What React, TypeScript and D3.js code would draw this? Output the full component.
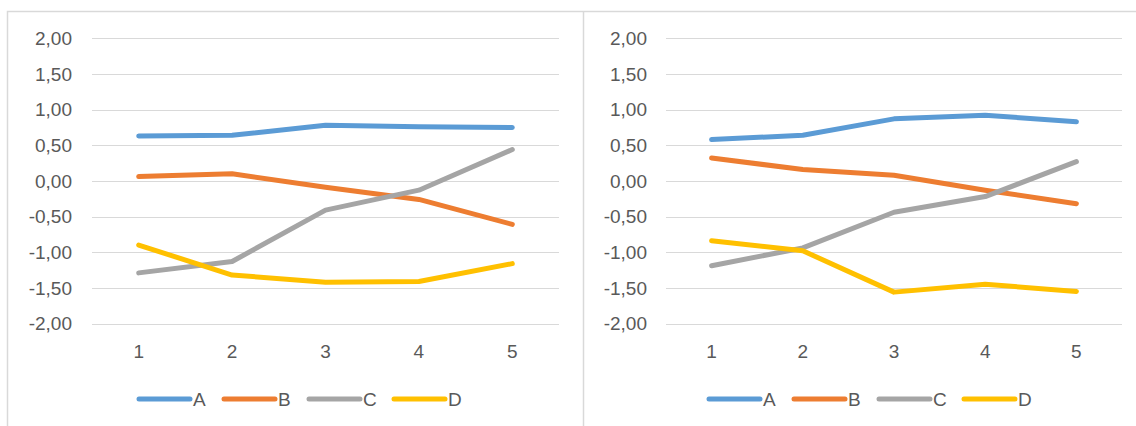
import React from 'react';
import * as d3 from 'd3';

const categories = ['1', '2', '3', '4', '5'];
const seriesNames = ['A', 'B', 'C', 'D'];
const colors = ['#5B9BD5', '#ED7D31', '#A5A5A5', '#FFC000'];
const yTicks = [2, 1.5, 1, 0.5, 0, -0.5, -1, -1.5, -2];

const leftA = [0.63, 0.64, 0.78, 0.76, 0.75];
const leftB = [0.06, 0.1, -0.09, -0.26, -0.61];
const leftC = [-1.29, -1.13, -0.41, -0.13, 0.44];
const leftD = [-0.9, -1.32, -1.42, -1.41, -1.16];

const rightA = [0.58, 0.64, 0.87, 0.92, 0.83];
const rightB = [0.32, 0.16, 0.08, -0.13, -0.32];
const rightC = [-1.19, -0.94, -0.44, -0.22, 0.27];
const rightD = [-0.84, -0.98, -1.56, -1.45, -1.55];

const W = 1136;
const H = 426;
const FONT = '"Liberation Sans", Arial, sans-serif';
const TEXT = '#595959';
const GRID = '#D9D9D9';

const fmt = (v: number) => v.toFixed(2).replace('.', ',');

type PanelProps = { x0: number; x1: number; labelRight: number; legendX: number; data: number[][] };

function Panel({ x0, x1, labelRight, legendX, data }: PanelProps) {
  const y = d3.scaleLinear().domain([-2, 2]).range([323.5, 38.3]);
  const x = d3.scaleBand<string>().domain(categories).range([x0, x1]);
  const cx = (c: string) => (x(c) as number) + x.bandwidth() / 2;
  const line = d3
    .line<number>()
    .x((_, i) => cx(categories[i]))
    .y((v) => y(v));
  return (
    <g>
      {yTicks.map((t) => (
        <g key={t}>
          <line x1={x0} x2={x1} y1={Math.round(y(t)) + 0.5} y2={Math.round(y(t)) + 0.5} stroke={GRID} strokeWidth={1} />
          <text x={labelRight} y={y(t)} dy="0.35em" textAnchor="end" fontSize={19} fill={TEXT} fontFamily={FONT}>
            {fmt(t)}
          </text>
        </g>
      ))}
      {categories.map((c) => (
        <text key={c} x={cx(c)} y={351} dy="0.35em" textAnchor="middle" fontSize={19} fill={TEXT} fontFamily={FONT}>
          {c}
        </text>
      ))}
      {data.map((s, i) => (
        <path key={i} d={line(s) || ''} fill="none" stroke={colors[i]} strokeWidth={5} strokeLinejoin="round" strokeLinecap="round" />
      ))}
      {seriesNames.map((n, i) => {
        const lx = legendX + i * 85;
        return (
          <g key={n}>
            <line x1={lx + 2} x2={lx + 53} y1={399} y2={399} stroke={colors[i]} strokeWidth={5} strokeLinecap="round" />
            <text x={lx + 56} y={399} dy="0.35em" fontSize={19} fill={TEXT} fontFamily={FONT}>
              {n}
            </text>
          </g>
        );
      })}
    </g>
  );
}

export default function App() {
  return (
    <div style={{ position: 'fixed', left: 0, top: 0, width: W, height: H, background: '#fff' }}>
      <svg width={W} height={H} style={{ display: 'block' }}>
        <rect x={0} y={0} width={W} height={H} fill="#fff" />
        <path d={`M7.5,${H} V11.5 H${W}`} fill="none" stroke={GRID} strokeWidth={1.5} />
        <line x1={583.5} x2={583.5} y1={11.5} y2={H} stroke={GRID} strokeWidth={1.5} />
        <Panel x0={92} x1={559} labelRight={72} legendX={137} data={[leftA, leftB, leftC, leftD]} />
        <Panel x0={666} x1={1122} labelRight={647} legendX={707} data={[rightA, rightB, rightC, rightD]} />
      </svg>
    </div>
  );
}
